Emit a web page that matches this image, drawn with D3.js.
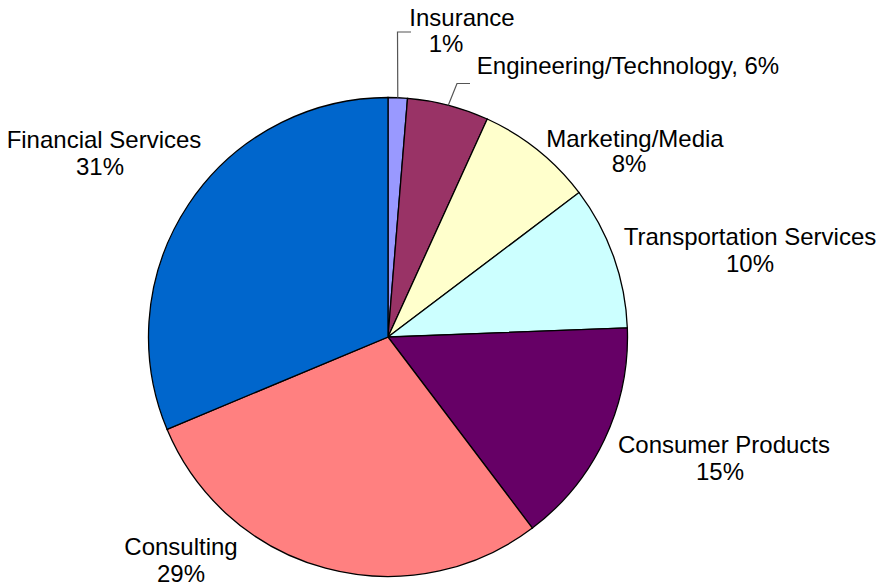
<!DOCTYPE html>
<html>
<head>
<meta charset="utf-8">
<script src="https://cdn.jsdelivr.net/npm/d3@7"></script>
<style>
    body { margin: 0; background: #fff; }
    svg { display: block; }
    .slice { stroke: #000; stroke-width: 1.3; }
    .label { font-family: "Liberation Sans", Arial, sans-serif; font-size: 24px; fill: #000; }
    .leader { fill: none; stroke: #555; stroke-width: 1.2; }
</style>
</head>
<body>
<div class="container"></div>
<script>
const WIDTH = 878;
const HEIGHT = 587;
const CX = 388;
const CY = 337;
const RADIUS = 239.5;

// data, clockwise from 12 o'clock
var categories = ['Insurance', 'Engineering/Technology', 'Marketing/Media', 'Transportation Services',
    'Consumer Products', 'Consulting', 'Financial Services'];
var values = [1.3, 5.5, 7.9, 9.7, 15.3, 29.0, 31.3];
var percentLabels = ['1%', '6%', '8%', '10%', '15%', '29%', '31%'];
var colors = ['#9999FF', '#993366', '#FFFFCC', '#CCFFFF', '#660066', '#FF8080', '#0066CC'];

// label layout: [nameX, nameY, valueX, valueY] (valueX null = same line as name)
var labelLayout = [
    [462, 26, 446, 52],
    [628, 74, null, null],
    [635, 147, 629, 172],
    [750, 245, 750, 272],
    [724, 453, 720, 480],
    [181, 555, 181, 582],
    [104, 148, 100, 175]
];
// leader elbows for the small slices: [elbowX, elbowY, endX]
var leaderLayout = {
    0: [397.5, 32, 411],
    1: [457, 83.5, 470]
};

var _svg;

var createSvg = function () {
    _svg = d3.select('.container').append('svg').attr('width', WIDTH).attr('height', HEIGHT);
};

var drawPie = function () {
    var pie = d3.pie().sort(null).value(function (d) { return d.value; });
    var arc = d3.arc().innerRadius(0).outerRadius(RADIUS);

    var data = categories.map(function (c, i) {
        return {name: c, value: values[i], label: percentLabels[i], color: colors[i]};
    });
    var arcs = pie(data);

    var g = _svg.append('g').attr('transform', 'translate(' + CX + ',' + CY + ')');

    g.selectAll('.slice')
        .data(arcs)
        .enter().append('path')
        .attr('class', 'slice')
        .attr('d', arc)
        .attr('fill', function (d) { return d.data.color; });

    // leader lines
    arcs.forEach(function (d, i) {
        var lay = leaderLayout[i];
        if (!lay) return;
        var mid = (d.startAngle + d.endAngle) / 2;
        var sx = CX + RADIUS * Math.sin(mid);
        var sy = CY - RADIUS * Math.cos(mid);
        _svg.append('path')
            .attr('class', 'leader')
            .attr('d', d3.line()([[sx, sy], [lay[0], lay[1]], [lay[2], lay[1]]]));
    });

    // labels
    arcs.forEach(function (d, i) {
        var lay = labelLayout[i];
        if (lay[2] === null) {
            _svg.append('text').attr('class', 'label')
                .attr('x', lay[0]).attr('y', lay[1])
                .attr('text-anchor', 'middle')
                .text(d.data.name + ', ' + d.data.label);
        } else {
            _svg.append('text').attr('class', 'label')
                .attr('x', lay[0]).attr('y', lay[1])
                .attr('text-anchor', 'middle')
                .text(d.data.name);
            _svg.append('text').attr('class', 'label')
                .attr('x', lay[2]).attr('y', lay[3])
                .attr('text-anchor', 'middle')
                .text(d.data.label);
        }
    });
};

createSvg();
drawPie();
</script>
</body>
</html>
